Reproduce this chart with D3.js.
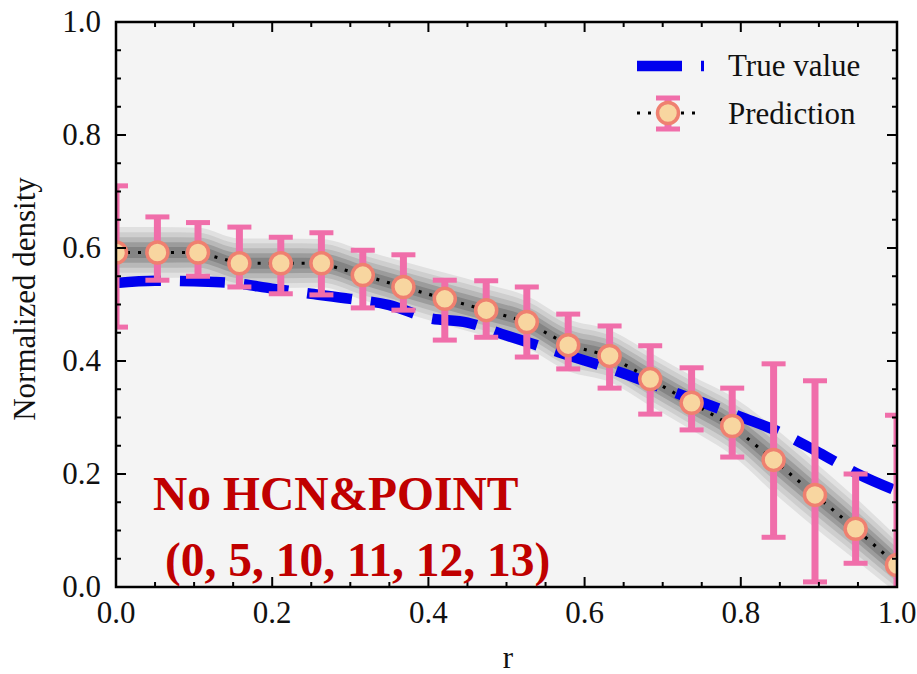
<!DOCTYPE html>
<html><head><meta charset="utf-8">
<script src="https://cdn.jsdelivr.net/npm/d3@7"></script>
<style>body{margin:0;background:#fff}svg{display:block}</style>
</head><body>
<svg id="chart" width="917" height="674"></svg>
<script>
// ---- data ----
const rPred = [0, 0.053, 0.105, 0.158, 0.211, 0.263, 0.316, 0.368, 0.421, 0.474, 0.526, 0.579, 0.632, 0.684, 0.737, 0.789, 0.842, 0.895, 0.947, 1.0];
const predValue = [0.592,0.592,0.592,0.573,0.573,0.573,0.552,0.531,0.510,0.490,0.469,0.428,0.409,0.368,0.326,0.285,0.225,0.163,0.103,0.039];
const predUpper = [0.710,0.655,0.645,0.637,0.619,0.627,0.596,0.588,0.543,0.542,0.531,0.483,0.462,0.427,0.388,0.352,0.395,0.365,0.200,0.304];
const predLower = [0.460,0.543,0.550,0.531,0.519,0.517,0.494,0.490,0.437,0.442,0.407,0.386,0.352,0.306,0.278,0.230,0.088,0.009,0.042,-0.226];
const bandHalf = [0.045,0.045,0.044,0.044,0.044,0.043,0.044,0.045,0.046,0.046,0.046,0.046,0.046,0.047,0.048,0.052,0.058,0.058,0.055,0.05];
const rTrue = [0,0.05,0.1,0.15,0.2,0.25,0.3,0.35,0.4,0.45,0.5,0.55,0.6,0.65,0.7,0.75,0.8,0.85,0.9,0.95,1.0];
const trueValue = [0.538,0.542,0.541,0.538,0.528,0.519,0.510,0.499,0.476,0.468,0.445,0.423,0.401,0.378,0.352,0.327,0.301,0.274,0.238,0.200,0.170];
const xTicks = [0, 0.2, 0.4, 0.6, 0.8, 1.0];
const yTicks = [0, 0.2, 0.4, 0.6, 0.8, 1.0];
const legendLabels = ["True value", "Prediction"];
const annotation = ["No HCN&POINT", "(0, 5, 10, 11, 12, 13)"];

// ---- layout ----
const svg = d3.select("#chart");
const L = 116, R = 897, T = 22, B = 587;
const x = d3.scaleLinear().domain([0,1]).range([L,R]);
const y = d3.scaleLinear().domain([0,1]).range([B,T]);
const serif = "'Liberation Serif','Times New Roman',serif";
const pink = "#f06eaa", blue = "#0000ee";

svg.append("defs").append("clipPath").attr("id","clip")
  .append("rect").attr("x",L).attr("y",T).attr("width",R-L).attr("height",B-T);

svg.append("rect").attr("x",L).attr("y",T).attr("width",R-L).attr("height",B-T).attr("fill","#f4f4f4");

const g = svg.append("g").attr("clip-path","url(#clip)");
const pts = rPred.map((r,i)=>({r, v:predValue[i], lo:predLower[i], hi:predUpper[i], w:bandHalf[i]}));

// shaded bands
const bandLevels = [
  {f:1.0, c:"#e0e0e0"},
  {f:0.8, c:"#cecece"},
  {f:0.6, c:"#b8b8b8"},
  {f:0.4, c:"#9c9c9c"},
  {f:0.22, c:"#848484"}
];
bandLevels.forEach(b=>{
  g.append("path").datum(pts)
    .attr("fill", b.c)
    .attr("d", d3.area().curve(d3.curveMonotoneX)
      .x(d=>x(d.r)).y0(d=>y(d.v - d.w*b.f)).y1(d=>y(d.v + d.w*b.f)));
});

// true value dashed line
const trueData = rTrue.map((r,i)=>({r, v:trueValue[i]}));
g.append("path").datum(trueData)
  .attr("fill","none").attr("stroke",blue).attr("stroke-width",10.5)
  .attr("stroke-dasharray","45,19")
  .attr("d", d3.line().curve(d3.curveMonotoneX).x(d=>x(d.r)).y(d=>y(d.v)));

// dotted prediction line
g.append("path").datum(pts)
  .attr("fill","none").attr("stroke","#000").attr("stroke-width",3.2)
  .attr("stroke-dasharray","3,8")
  .attr("d", d3.line().x(d=>x(d.r)).y(d=>y(d.v)));

// error bars
const eb = g.append("g");
pts.forEach(d=>{
  eb.append("line").attr("x1",x(d.r)).attr("x2",x(d.r)).attr("y1",y(d.lo)).attr("y2",y(d.hi))
    .attr("stroke",pink).attr("stroke-width",7);
  [d.lo,d.hi].forEach(v=>{
    eb.append("line").attr("x1",x(d.r)-12).attr("x2",x(d.r)+12).attr("y1",y(v)).attr("y2",y(v))
      .attr("stroke",pink).attr("stroke-width",5);
  });
});
// markers
g.selectAll("circle.m").data(pts).join("circle")
  .attr("cx",d=>x(d.r)).attr("cy",d=>y(d.v)).attr("r",10.5)
  .attr("fill","#f8d6a0").attr("stroke","#ef8070").attr("stroke-width",3.5);

// axes frame
svg.append("rect").attr("x",L).attr("y",T).attr("width",R-L).attr("height",B-T)
  .attr("fill","none").attr("stroke","#000").attr("stroke-width",2.5);

// ticks inward
const minorX = d3.range(0,1.0001,0.05), minorY = d3.range(0,1.0001,0.05);
const tk = svg.append("g").attr("stroke","#000").attr("stroke-width",2);
minorX.forEach(v=>{
  const major = xTicks.some(t=>Math.abs(t-v)<1e-6);
  const len = major?10:5;
  tk.append("line").attr("x1",x(v)).attr("x2",x(v)).attr("y1",B).attr("y2",B-len);
  tk.append("line").attr("x1",x(v)).attr("x2",x(v)).attr("y1",T).attr("y2",T+len);
});
minorY.forEach(v=>{
  const major = yTicks.some(t=>Math.abs(t-v)<1e-6);
  const len = major?10:5;
  tk.append("line").attr("y1",y(v)).attr("y2",y(v)).attr("x1",L).attr("x2",L+len);
  tk.append("line").attr("y1",y(v)).attr("y2",y(v)).attr("x1",R).attr("x2",R-len);
});

// tick labels
svg.append("g").selectAll("text").data(xTicks).join("text")
  .attr("x",d=>x(d)).attr("y",623).attr("text-anchor","middle")
  .attr("font-family",serif).attr("font-size",31).attr("fill","#111")
  .text(d=>d.toFixed(1));
svg.append("g").selectAll("text").data(yTicks).join("text")
  .attr("x",101).attr("y",d=>y(d)+10).attr("text-anchor","end")
  .attr("font-family",serif).attr("font-size",31).attr("fill","#111")
  .text(d=>d.toFixed(1));

// axis labels
svg.append("text").attr("x",508).attr("y",668).attr("text-anchor","middle")
  .attr("font-family",serif).attr("font-size",31).attr("fill","#111").text("r");
svg.append("text").attr("transform","translate(35,299) rotate(-90)").attr("text-anchor","middle")
  .attr("font-family",serif).attr("font-size",31).attr("fill","#111").text("Normalized density");

// annotation
svg.append("text").attr("x",153).attr("y",510)
  .attr("font-family",serif).attr("font-size",47.5).attr("font-weight","bold").attr("fill","#c00000").text(annotation[0]);
svg.append("text").attr("x",165).attr("y",576)
  .attr("font-family",serif).attr("font-size",47.5).attr("font-weight","bold").attr("fill","#c00000").text(annotation[1]);

// legend
const lg = svg.append("g");
lg.append("line").attr("x1",637).attr("x2",704).attr("y1",66).attr("y2",66)
  .attr("stroke",blue).attr("stroke-width",10.5).attr("stroke-dasharray","45,19");
lg.append("line").attr("x1",637).attr("x2",700).attr("y1",113).attr("y2",113)
  .attr("stroke","#000").attr("stroke-width",3.2).attr("stroke-dasharray","3,8");
lg.append("line").attr("x1",668).attr("x2",668).attr("y1",98).attr("y2",129).attr("stroke",pink).attr("stroke-width",7);
[98,129].forEach(v=>lg.append("line").attr("x1",656).attr("x2",680).attr("y1",v).attr("y2",v).attr("stroke",pink).attr("stroke-width",5));
lg.append("circle").attr("cx",668).attr("cy",113).attr("r",10.5).attr("fill","#f8d6a0").attr("stroke","#ef8070").attr("stroke-width",3.5);
lg.selectAll("text.l").data(legendLabels).join("text")
  .attr("x",728).attr("y",(d,i)=>76+i*48)
  .attr("font-family",serif).attr("font-size",31).attr("fill","#111").text(d=>d);
</script>
</body></html>
